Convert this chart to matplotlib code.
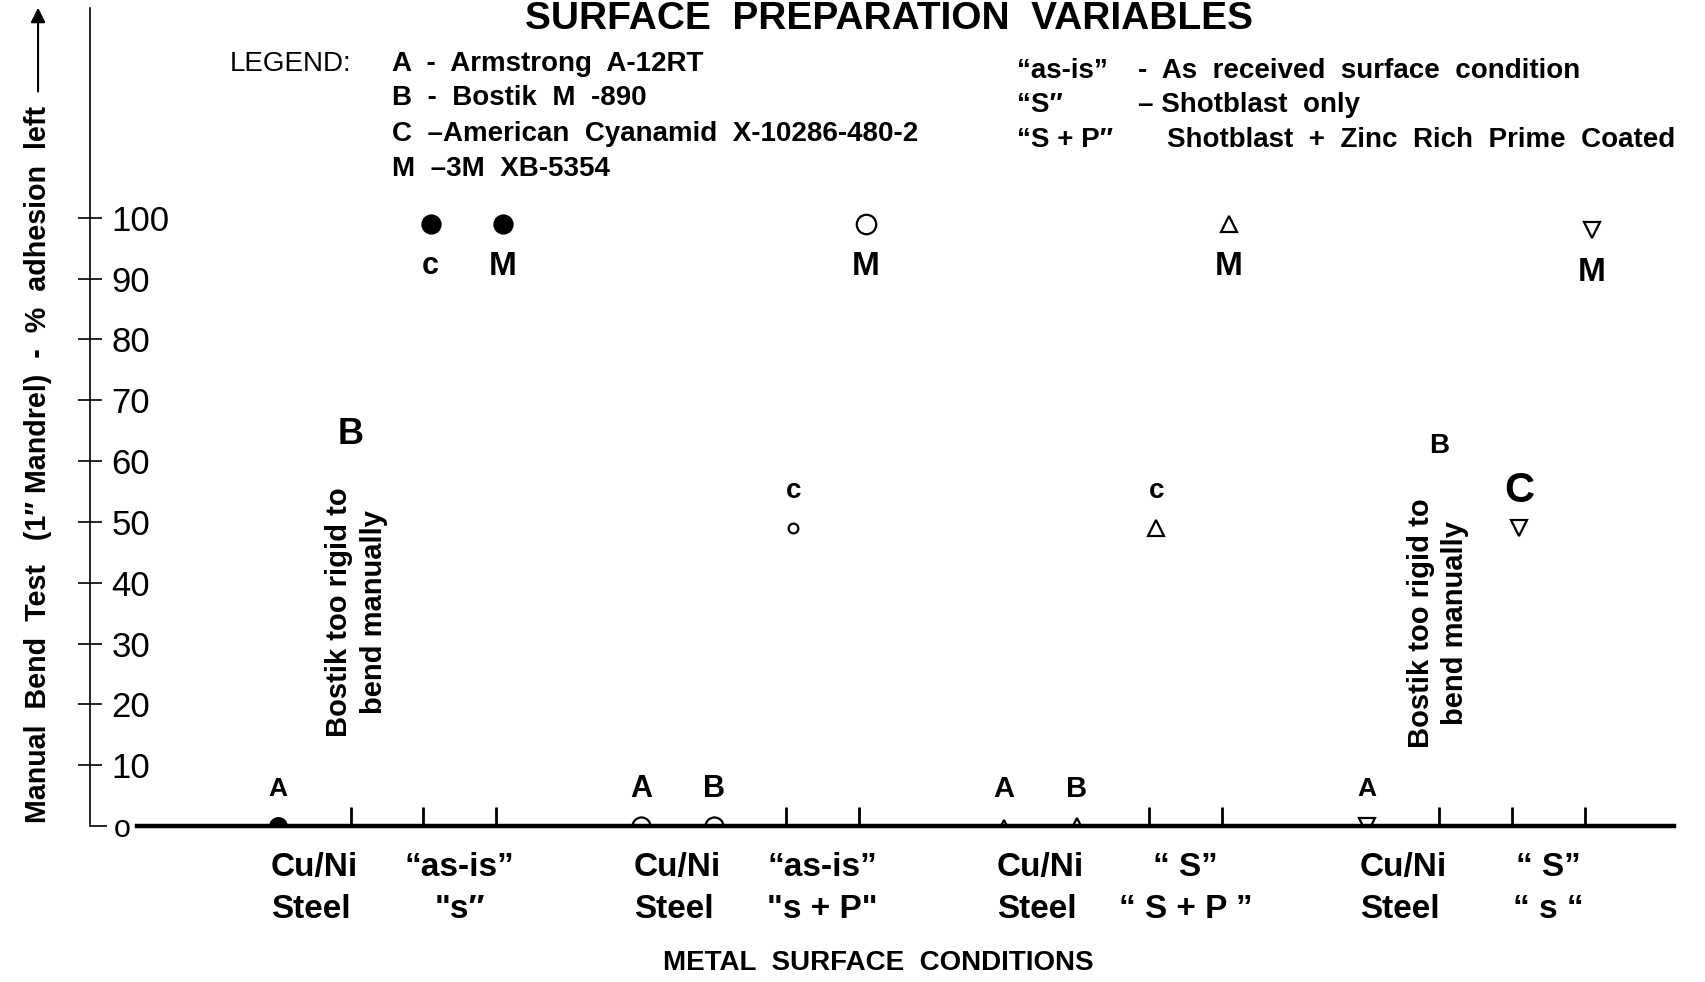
import numpy as np
import matplotlib.pyplot as plt
from matplotlib.ticker import FixedLocator, FixedFormatter

plt.rcParams['font.family'] = ['Liberation Sans', 'DejaVu Sans']

# adhesives (legend) and surface conditions
adhesives = ['A', 'B', 'C', 'M']
legend_names = ['A  -  Armstrong  A-12RT',
                'B  -  Bostik  M  -890',
                'C  \u2013American  Cyanamid  X-10286-480-2',
                'M  \u20133M  XB-5354']
surface_keys = ['\u201cas-is\u201d', '\u201cS\u2033', '\u201cS + P\u2033']
surface_desc = ['-  As  received  surface  condition',
                '\u2013 Shotblast  only',
                'Shotblast  +  Zinc  Rich  Prime  Coated']

# x groups: metal / surface condition
cuni_cond = ['\u201cas-is\u201d', '\u201cas-is\u201d', '\u201c S\u201d', '\u201c S\u201d']
steel_cond = ['"s\u2033', '"s + P"', '\u201c S + P \u201d', '\u201c s \u201c']

# % adhesion left per adhesive, per group (nan = Bostik too rigid to bend)
armstrong = [0, 0, 0, 0]
bostik = [np.nan, 0, 0, np.nan]
cyanamid = [99, 49, 49, 49]
xb5354 = [99, 99, 99, 98]
series = [armstrong, bostik, cyanamid, xb5354]

point_labels = [['A', 'B', 'c', 'M'],
                ['A', 'B', 'c', 'M'],
                ['A', 'B', 'c', 'M'],
                ['A', 'B', 'C', 'M']]
bostik_label_y = [64.3, np.nan, np.nan, 62.5]

# marker style per group
group_marker = ['o', 'o', '^', 'v']
group_face = ['black', 'none', 'none', 'none']
marker_size = [[12, 13, 13, 13],
               [13, 13, 7, 14],
               [8, 12, 12, 11],
               [11, 13, 12, 11]]
label_size = [[19, 26, 22, 24],
              [22, 22, 20, 24],
              [21, 21, 20, 24],
              [19, 20, 30, 24]]

fig = plt.figure(figsize=(17.06, 9.82), dpi=100)
ax = fig.add_axes([0.0528, 0.1589, 0.9284, 0.833])
ax.set_xlim(-2.59, 19.23)
ax.set_ylim(0, 134.5)

ax.spines['top'].set_visible(False)
ax.spines['right'].set_visible(False)
ax.spines['left'].set_linewidth(1.2)
ax.spines['bottom'].set_linewidth(3.2)
ax.spines['bottom'].set_bounds(-1.94, 19.23)

tick_slots = []
for g in range(4):
    for i, vals in enumerate(series):
        x = g * 5 + i
        v = vals[g]
        if np.isnan(v) or v > 0:
            tick_slots.append(x)
        if np.isnan(v):
            ax.text(x, bostik_label_y[g], adhesives[i], ha='center', va='center',
                    fontsize=label_size[g][i], fontweight='bold')
            continue
        dx = 0.1 if v > 0 else 0
        ax.plot(x + dx, v, marker=group_marker[g], ms=marker_size[g][i],
                mfc=group_face[g], mec='black', mew=1.6, ls='none', zorder=3)
        if v == 0:
            off = 6
        elif v >= 90:
            off = -7
        else:
            off = 6
        ax.text(x + dx, v + off, point_labels[g][i], ha='center', va='center',
                fontsize=label_size[g][i], fontweight='bold')

# notes where Bostik could not be bent
for g, yc, xo in [(0, 35.1, 1.08), (3, 33.3, 0.98)]:
    ax.text(g * 5 + xo, yc, 'Bostik too rigid to\nbend manually', rotation=90,
            ha='center', va='center', fontsize=21, fontweight='bold',
            linespacing=1.3, multialignment='center')

# x axis ticks
ax.set_xticks(tick_slots)
ax.tick_params(axis='x', direction='in', length=14, width=2, labelbottom=False)

# y axis ticks, labels on the right of the axis
yt = list(range(10, 101, 10))
ax.set_yticks(yt)
ax.set_yticklabels([str(t) for t in yt], ha='left')
ax.tick_params(axis='y', which='major', direction='inout', length=17, width=1.2,
               labelsize=25, pad=-24)
ax.yaxis.set_minor_locator(FixedLocator([0]))
ax.yaxis.set_minor_formatter(FixedFormatter(['o']))
ax.tick_params(axis='y', which='minor', direction='in', length=12, width=1.2,
               labelsize=22, pad=-17)
for lbl in ax.yaxis.get_minorticklabels():
    lbl.set_ha('left')

# group labels under the axis
for g in range(4):
    ax.text(g * 5 + 0.5, -6.9, 'Cu/Ni', ha='center', va='center', fontsize=24, fontweight='bold')
    ax.text(g * 5 + 2.5, -6.9, cuni_cond[g], ha='center', va='center', fontsize=24, fontweight='bold')
    ax.text(g * 5 + 0.45, -13.7, 'Steel', ha='center', va='center', fontsize=24, fontweight='bold')
    ax.text(g * 5 + 2.5, -13.7, steel_cond[g], ha='center', va='center', fontsize=24, fontweight='bold')

fig.text(0.515, 0.006, 'METAL  SURFACE  CONDITIONS', ha='center', va='bottom',
         fontsize=20, fontweight='bold')

# title at the top edge
fig.text(0.521, 0.97, 'SURFACE  PREPARATION  VARIABLES', ha='center', va='baseline',
         fontsize=28, fontweight='bold')

# y label with arrow
fig.text(0.0223, 0.162, 'Manual  Bend  Test   (1\u2033 Mandrel)  -  %  adhesion  left',
         rotation=90, ha='center', va='bottom', fontsize=20.6, fontweight='bold')
ax.annotate('', xy=(0.0223, 0.995), xytext=(0.0223, 0.904), xycoords='figure fraction',
            textcoords='figure fraction',
            arrowprops=dict(arrowstyle='-|>', lw=1.5, color='black', mutation_scale=22))

# legend block
fig.text(0.1347, 0.935, 'LEGEND:', fontsize=20, va='center')
leg_y = [0.935, 0.900, 0.864, 0.828]
for name, y in zip(legend_names, leg_y):
    fig.text(0.2295, y, name, fontsize=20, fontweight='bold', va='center')

surf_y = [0.928, 0.893, 0.857]
desc_x = [0.667, 0.667, 0.684]
for key, desc, y, dxp in zip(surface_keys, surface_desc, surf_y, desc_x):
    fig.text(0.596, y, key, fontsize=20, fontweight='bold', va='center')
    fig.text(dxp, y, desc, fontsize=20, fontweight='bold', va='center')

fig.savefig('out.png', dpi=100)
